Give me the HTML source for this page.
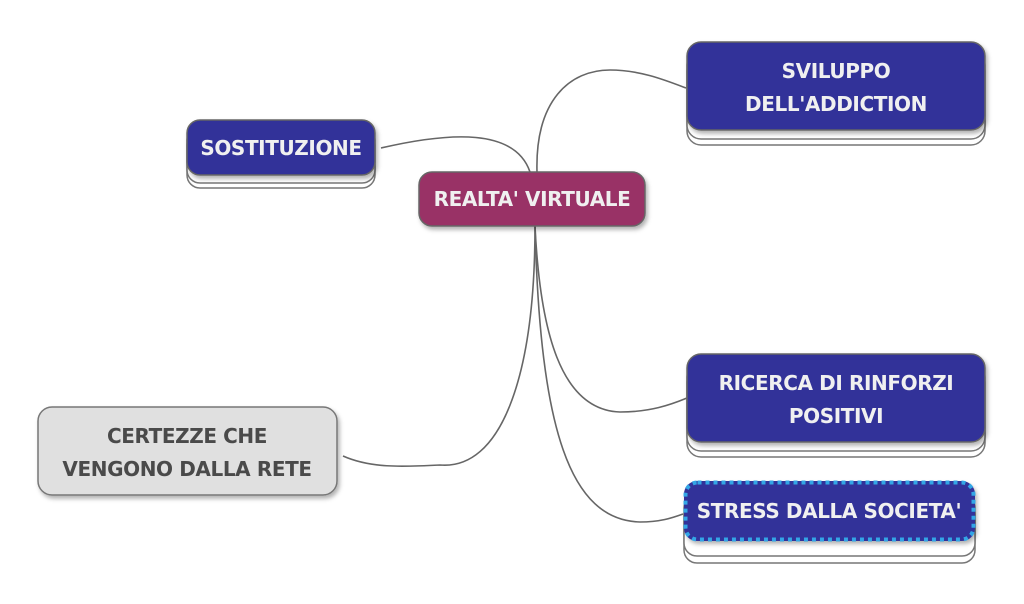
<!DOCTYPE html>
<html><head><meta charset="utf-8"><style>
html,body{margin:0;padding:0;background:#fff;width:1024px;height:604px;overflow:hidden}
svg text{font-family:"DejaVu Sans","Liberation Sans",sans-serif;font-weight:bold;font-size:20px;text-anchor:middle;letter-spacing:-0.4px}
</style></head><body>
<svg width="1024" height="604" viewBox="0 0 1024 604" xmlns="http://www.w3.org/2000/svg">
<defs>
<filter id="sh" x="-10%" y="-20%" width="130%" height="150%"><feDropShadow dx="2" dy="3" stdDeviation="2" flood-color="#000" flood-opacity="0.3"/></filter>
</defs>
<g fill="none" stroke="#666" stroke-width="1.6">
<path d="M381,148 C450,132 515,128 530,172"/>
<path d="M537,172 C535,100 570,70 610,70 C640,70 665,80 686,88"/>
<path d="M535,226 C535,380 500,470 440,465 C400,467 370,468 343,456"/>
<path d="M535,226 C540,330 560,410 620,412 C650,412 670,405 687,398"/>
<path d="M535,226 C540,430 570,520 640,522 C660,522 672,518 683,514"/>
</g>
<g fill="#fff" stroke="#777" stroke-width="1.5">
<rect x="187" y="132" width="188" height="56" rx="13"/>
<rect x="187" y="127" width="188" height="56" rx="13"/>
<rect x="687" y="57" width="298" height="88" rx="14"/>
<rect x="687" y="51" width="298" height="88" rx="14"/>
<rect x="687" y="369" width="298" height="88" rx="14"/>
<rect x="687" y="363" width="298" height="88" rx="14"/>
<rect x="684" y="502" width="291" height="61" rx="13"/>
<rect x="684" y="495" width="291" height="61" rx="13"/>
</g>
<g filter="url(#sh)">
<rect x="187" y="120" width="188" height="55" rx="13" fill="#333399" stroke="#666" stroke-width="1.5"/>
<rect x="419" y="172" width="226" height="54" rx="13" fill="#993366" stroke="#666" stroke-width="1.5"/>
<rect x="687" y="42" width="298" height="88" rx="14" fill="#333399" stroke="#666" stroke-width="1.5"/>
<rect x="687" y="354" width="298" height="88" rx="14" fill="#333399" stroke="#666" stroke-width="1.5"/>
<rect x="38" y="407" width="299" height="88" rx="14" fill="#e0e0e0" stroke="#777" stroke-width="1.5"/>
<rect x="684" y="481" width="291" height="60" rx="13" fill="#333399"/>
</g>
<rect x="685.5" y="482.5" width="288" height="57" rx="12" fill="none" stroke="#33a6e6" stroke-width="4" stroke-dasharray="4 4"/>
<g fill="#f0f0f0">
<text x="281" y="155">SOSTITUZIONE</text>
<text x="532" y="206">REALTA' VIRTUALE</text>
<text x="836" y="78">SVILUPPO</text>
<text x="836" y="111">DELL'ADDICTION</text>
<text x="836" y="390">RICERCA DI RINFORZI</text>
<text x="836" y="423">POSITIVI</text>
<text x="829" y="518">STRESS DALLA SOCIETA'</text>
</g>
<g fill="#4a4a4a">
<text x="187" y="443">CERTEZZE CHE</text>
<text x="187" y="476">VENGONO DALLA RETE</text>
</g>
</svg>
</body></html>
